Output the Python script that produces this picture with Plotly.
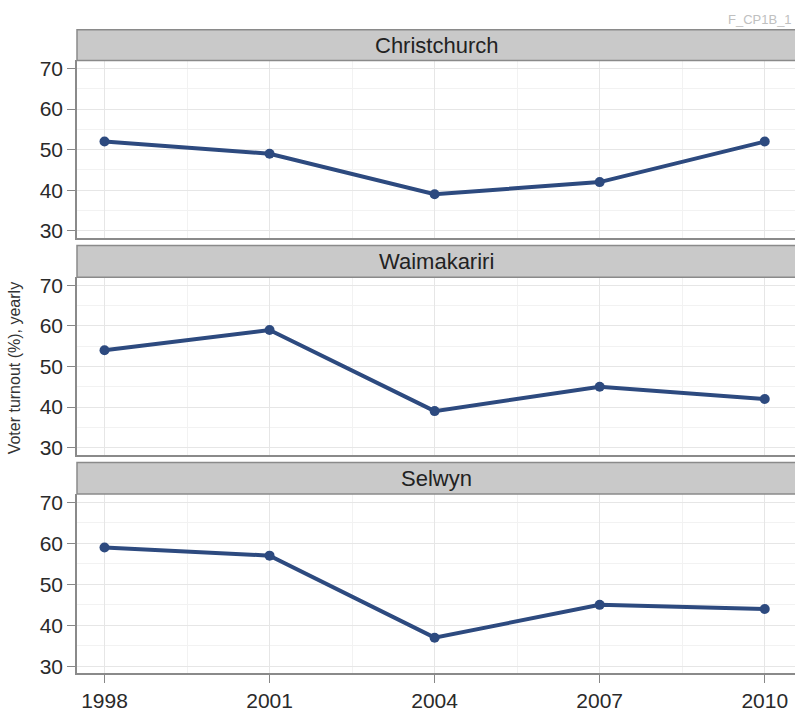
import plotly.graph_objects as go

years = [1998, 2001, 2004, 2007, 2010]
regions = ["Christchurch", "Waimakariri", "Selwyn"]
christchurch = [52, 49, 39, 42, 52]
waimakariri = [54, 59, 39, 45, 42]
selwyn = [59, 57, 37, 45, 44]
series = [christchurch, waimakariri, selwyn]
y_ticks = [30, 40, 50, 60, 70]

W, H = 795, 712
def px(v): return v / W
def py(v): return 1 - v / H

# panel pixel extents (top, bottom) and strip top
panels = [(58, 237, 27), (277, 456, 245), (496, 677, 464)]
x_left = 77

fig = go.Figure()
line_col = "#2d4a7f"
for i, (name, vals) in enumerate(zip(regions, series)):
    k = "" if i == 0 else str(i + 1)
    fig.add_trace(go.Scatter(
        x=years, y=vals, mode="lines+markers",
        line=dict(color=line_col, width=4),
        marker=dict(color=line_col, size=10),
        xaxis="x" + k, yaxis="y" + k, showlegend=False))

layout = dict(
    width=W, height=H,
    margin=dict(l=0, r=0, t=0, b=0),
    paper_bgcolor="white", plot_bgcolor="white",
    font=dict(family="Liberation Sans, Arial, sans-serif", color="#333333"),
    shapes=[], annotations=[],
)
for i, (top, bot, stop) in enumerate(panels):
    k = "" if i == 0 else str(i + 1)
    last = i == 2
    layout["xaxis" + k] = dict(
        domain=[px(x_left), 1], range=[1997.5, 2010.55],
        anchor="y" + k, tickvals=years,
        showticklabels=last, ticks="outside" if last else "",
        ticklen=8, tickcolor="#888888",
        tickfont=dict(size=21, color="#2a2a2a"),
        showgrid=True, gridcolor="#e6e6e6", gridwidth=1,
        minor=dict(dtick=1.5, tick0=1998, showgrid=True, gridcolor="#f2f2f2"),
        showline=True, linecolor="#8a8a8a", linewidth=1.5, mirror=False,
        zeroline=False,
    )
    layout["yaxis" + k] = dict(
        domain=[py(bot), py(top)], range=[28.3, 72],
        anchor="x" + k, tickvals=y_ticks,
        ticks="outside", ticklen=8, tickcolor="#888888",
        tickfont=dict(size=21, color="#2a2a2a"),
        showgrid=True, gridcolor="#e6e6e6", gridwidth=1,
        minor=dict(dtick=5, tick0=25, showgrid=True, gridcolor="#f2f2f2"),
        showline=True, linecolor="#8a8a8a", linewidth=1.5,
        zeroline=False,
    )
    layout["shapes"].append(dict(
        type="rect", xref="paper", yref="paper",
        x0=px(x_left), x1=1.01, y0=py(top), y1=py(stop),
        fillcolor="#c9c9c9", line=dict(color="#8a8a8a", width=1.5)))
    layout["annotations"].append(dict(
        text=regions[i], xref="paper", yref="paper",
        x=(px(x_left) + 1) / 2, y=(py(top) + py(stop)) / 2,
        showarrow=False, xanchor="center", yanchor="middle",
        font=dict(size=22, color="#222222")))

layout["annotations"].append(dict(
    text="Voter turnout (%), yearly", xref="paper", yref="paper",
    x=px(14), y=py(369), textangle=-90, showarrow=False,
    xanchor="center", yanchor="middle",
    font=dict(size=16, color="#333333")))
layout["annotations"].append(dict(
    text="F_CP1B_1", xref="paper", yref="paper",
    x=px(726), y=py(17), showarrow=False,
    xanchor="left", yanchor="middle",
    font=dict(size=13, color="#c0c0c0")))

fig.update_layout(**layout)
fig.write_html(
    "out.html",
    config={"displayModeBar": False},
    post_script="document.body.style.margin='0';document.body.style.overflow='hidden';",
)
